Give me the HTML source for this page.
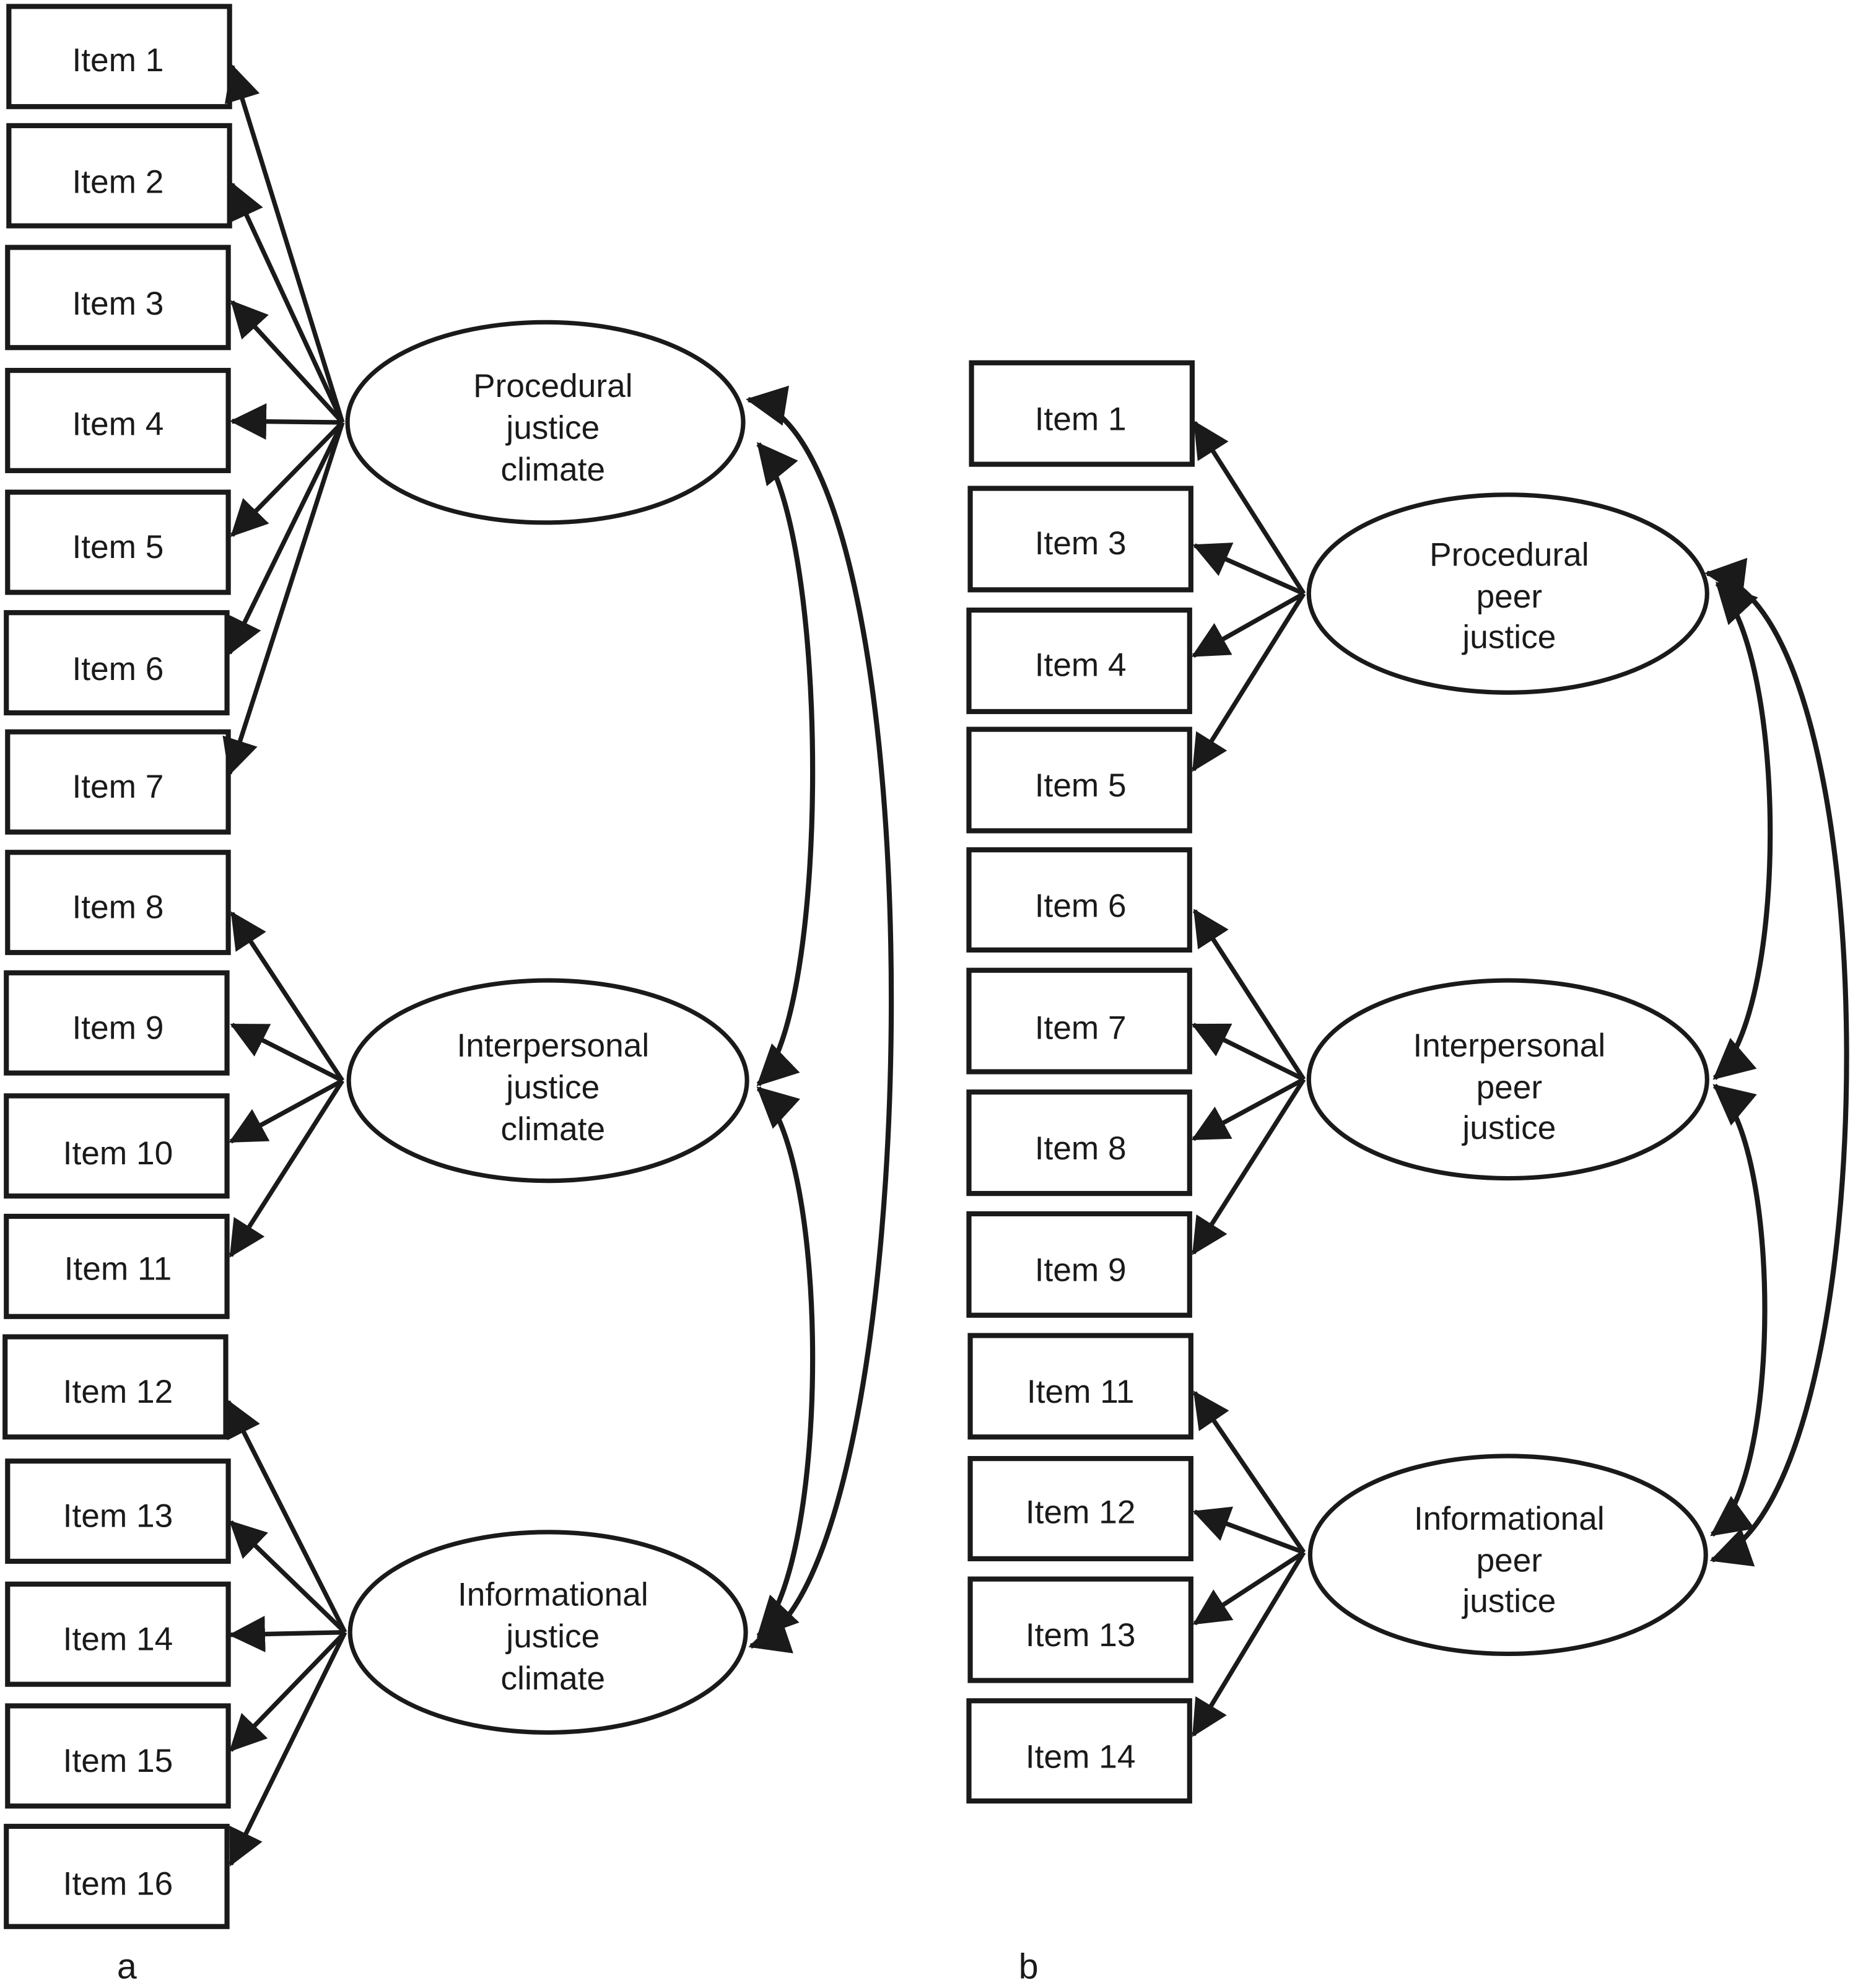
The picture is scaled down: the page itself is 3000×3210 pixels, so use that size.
<!DOCTYPE html>
<html><head><meta charset="utf-8"><style>
html,body{margin:0;padding:0;background:#fff;}
svg{display:block;}
text{font-family:"Liberation Sans",sans-serif;fill:#1a1a1a;}
</style></head><body>
<svg width="3000" height="3210" viewBox="0 0 1465 1567.4" xmlns="http://www.w3.org/2000/svg">
<defs>
<marker id="ah" markerWidth="8" markerHeight="8" refX="7.5" refY="4" orient="auto" markerUnits="strokeWidth">
<path d="M0,0 L8,4 L0,8 Z" fill="#1a1a1a"/>
</marker>
<marker id="as" markerWidth="8" markerHeight="8" refX="0.5" refY="4" orient="auto" markerUnits="strokeWidth">
<path d="M8,0 L0,4 L8,8 Z" fill="#1a1a1a"/>
</marker>
</defs>
<g fill="none" stroke="#1a1a1a" stroke-width="4">
<rect x="7" y="5" width="174" height="79"/>
<rect x="7" y="99" width="174" height="79"/>
<rect x="6" y="195" width="174" height="79"/>
<rect x="6" y="292" width="174" height="79"/>
<rect x="6" y="388" width="174" height="79"/>
<rect x="5" y="483" width="174" height="79"/>
<rect x="6" y="577" width="174" height="79"/>
<rect x="6" y="672" width="174" height="79"/>
<rect x="5" y="767" width="174" height="79"/>
<rect x="5" y="864" width="174" height="79"/>
<rect x="5" y="959" width="174" height="79"/>
<rect x="4" y="1054" width="174" height="79"/>
<rect x="6" y="1152" width="174" height="79"/>
<rect x="6" y="1249" width="174" height="79"/>
<rect x="6" y="1345" width="174" height="79"/>
<rect x="5" y="1440" width="174" height="79"/>
<rect x="766" y="286" width="174" height="80"/>
<rect x="765" y="385" width="174" height="80"/>
<rect x="764" y="481" width="174" height="80"/>
<rect x="764" y="575" width="174" height="80"/>
<rect x="764" y="670" width="174" height="79"/>
<rect x="764" y="765" width="174" height="80"/>
<rect x="764" y="861" width="174" height="80"/>
<rect x="764" y="957" width="174" height="80"/>
<rect x="765" y="1053" width="174" height="80"/>
<rect x="765" y="1150" width="174" height="79"/>
<rect x="765" y="1245" width="174" height="80"/>
<rect x="764" y="1341" width="174" height="79"/>
</g>
<g fill="none" stroke="#1a1a1a" stroke-width="3.5">
<ellipse cx="430" cy="333" rx="156" ry="79"/>
<ellipse cx="432" cy="852" rx="157" ry="79"/>
<ellipse cx="432" cy="1287" rx="156" ry="79"/>
<ellipse cx="1189" cy="468" rx="157" ry="78"/>
<ellipse cx="1189" cy="851" rx="157" ry="78"/>
<ellipse cx="1189" cy="1226" rx="156" ry="78"/>
</g>
<g fill="none" stroke="#1a1a1a" stroke-width="3.6" marker-end="url(#ah)">
<line x1="270" y1="333" x2="183" y2="52"/>
<line x1="270" y1="333" x2="183" y2="145"/>
<line x1="270" y1="333" x2="183" y2="238"/>
<line x1="270" y1="333" x2="183" y2="332"/>
<line x1="270" y1="333" x2="183" y2="422"/>
<line x1="270" y1="333" x2="181" y2="515"/>
<line x1="270" y1="333" x2="181" y2="610"/>
<line x1="270" y1="852" x2="183" y2="720"/>
<line x1="270" y1="852" x2="183" y2="808"/>
<line x1="270" y1="852" x2="182" y2="900"/>
<line x1="270" y1="852" x2="182" y2="990"/>
<line x1="272" y1="1287" x2="180" y2="1105"/>
<line x1="272" y1="1287" x2="182" y2="1200"/>
<line x1="272" y1="1287" x2="182" y2="1289"/>
<line x1="272" y1="1287" x2="182" y2="1380"/>
<line x1="272" y1="1287" x2="182" y2="1470"/>
<line x1="1028" y1="468" x2="942" y2="333"/>
<line x1="1028" y1="468" x2="942" y2="430"/>
<line x1="1028" y1="468" x2="941" y2="517"/>
<line x1="1028" y1="468" x2="941" y2="607"/>
<line x1="1028" y1="851" x2="942" y2="718"/>
<line x1="1028" y1="851" x2="941" y2="808"/>
<line x1="1028" y1="851" x2="941" y2="898"/>
<line x1="1028" y1="851" x2="941" y2="988"/>
<line x1="1028" y1="1224" x2="942" y2="1098"/>
<line x1="1028" y1="1224" x2="942" y2="1192"/>
<line x1="1028" y1="1224" x2="942" y2="1280"/>
<line x1="1028" y1="1224" x2="941" y2="1368"/>
</g>
<g fill="none" stroke="#1a1a1a" stroke-width="4" marker-start="url(#as)" marker-end="url(#ah)">
<path d="M590,315 C745,340 735,1250 592,1298"/>
<path d="M598,350 C655,420 655,800 598,855"/>
<path d="M598,858 C655,910 655,1230 598,1290"/>
<path d="M1346,452 C1492,470 1492,1180 1350,1230"/>
<path d="M1354,460 C1410,520 1410,800 1352,850"/>
<path d="M1352,856 C1405,900 1405,1170 1350,1210"/>
</g>
<g font-size="26" text-anchor="middle">
<text x="93" y="56">Item 1</text>
<text x="93" y="152">Item 2</text>
<text x="93" y="248">Item 3</text>
<text x="93" y="343">Item 4</text>
<text x="93" y="440">Item 5</text>
<text x="93" y="536">Item 6</text>
<text x="93" y="629">Item 7</text>
<text x="93" y="724">Item 8</text>
<text x="93" y="819">Item 9</text>
<text x="93" y="918">Item 10</text>
<text x="93" y="1009">Item 11</text>
<text x="93" y="1106">Item 12</text>
<text x="93" y="1204">Item 13</text>
<text x="93" y="1301">Item 14</text>
<text x="93" y="1397">Item 15</text>
<text x="93" y="1494">Item 16</text>
<text x="852" y="339">Item 1</text>
<text x="852" y="437">Item 3</text>
<text x="852" y="533">Item 4</text>
<text x="852" y="628">Item 5</text>
<text x="852" y="723">Item 6</text>
<text x="852" y="819">Item 7</text>
<text x="852" y="914">Item 8</text>
<text x="852" y="1010">Item 9</text>
<text x="852" y="1106">Item 11</text>
<text x="852" y="1201">Item 12</text>
<text x="852" y="1298">Item 13</text>
<text x="852" y="1394">Item 14</text>
<text x="436" y="313">Procedural</text>
<text x="436" y="346">justice</text>
<text x="436" y="379">climate</text>
<text x="436" y="833">Interpersonal</text>
<text x="436" y="866">justice</text>
<text x="436" y="899">climate</text>
<text x="436" y="1266">Informational</text>
<text x="436" y="1299">justice</text>
<text x="436" y="1332">climate</text>
<text x="1190" y="446">Procedural</text>
<text x="1190" y="479">peer</text>
<text x="1190" y="511">justice</text>
<text x="1190" y="833">Interpersonal</text>
<text x="1190" y="866">peer</text>
<text x="1190" y="898">justice</text>
<text x="1190" y="1206">Informational</text>
<text x="1190" y="1239">peer</text>
<text x="1190" y="1271">justice</text>
<text x="100" y="1560" font-size="28">a</text>
<text x="811" y="1560" font-size="28">b</text>
</g>
</svg>
</body></html>
